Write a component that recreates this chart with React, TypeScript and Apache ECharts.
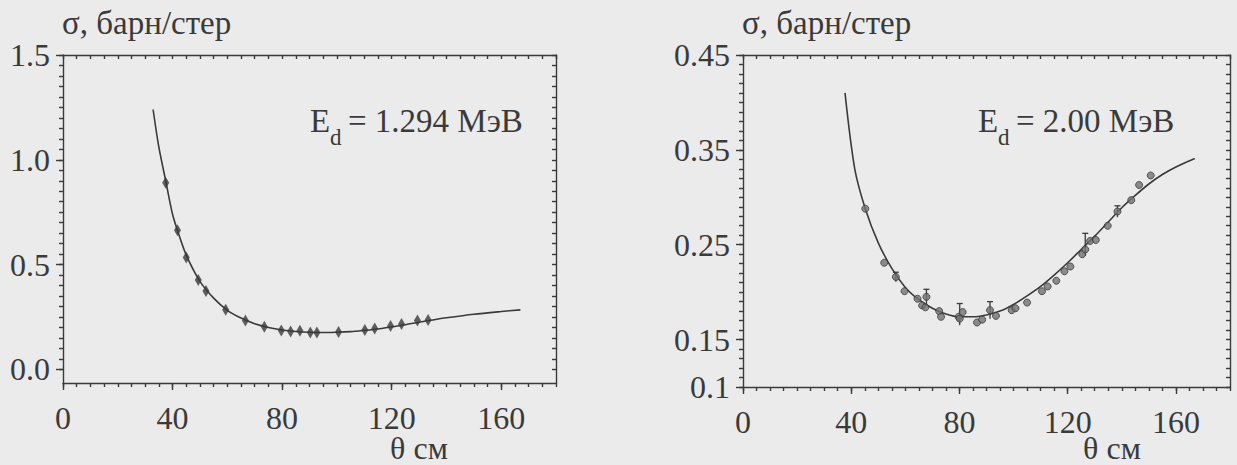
import React, { useEffect, useRef } from "react";
import * as echarts from "echarts";

// ---- tick labels ----
const thetaTicks = [0, 40, 80, 120, 160];
const leftSigmaTicks = [0, 0.5, 1.0, 1.5];
const rightSigmaTicks = [0.1, 0.15, 0.25, 0.35, 0.45];

// ---- left panel: E_d = 1.294 MeV ----
const leftTheta = [37.5, 41.8, 45, 49.4, 52.2, 59.4, 66.6, 73.5, 79.7, 83.1, 86.5, 90.3, 92.7, 100.6, 110.2, 113.8, 119.6, 123.6, 129.4, 133.3];
const leftSigma = [0.89, 0.664, 0.534, 0.426, 0.374, 0.284, 0.233, 0.203, 0.186, 0.181, 0.184, 0.176, 0.176, 0.178, 0.188, 0.195, 0.207, 0.216, 0.233, 0.236];
const leftFitTheta = [32.9, 35, 37.5, 40, 42, 45, 50, 55, 60, 65, 70, 75, 80, 85, 90, 95, 100, 105, 110, 115, 120, 125, 130, 135, 140, 150, 160, 167];
const leftFitSigma = [1.24, 1.06, 0.9, 0.74, 0.655, 0.545, 0.42, 0.34, 0.282, 0.245, 0.218, 0.2, 0.188, 0.181, 0.177, 0.176, 0.177, 0.18, 0.186, 0.193, 0.203, 0.213, 0.225, 0.236, 0.246, 0.263, 0.276, 0.284];

// ---- right panel: E_d = 2.00 MeV ----
const rightTheta = [45.2, 52.2, 56.5, 59.7, 64.5, 66.2, 67.4, 67.8, 72.5, 73.2, 79.7, 80.1, 81.2, 86.5, 88.4, 91.3, 93.5, 99.3, 100.7, 105, 110.5, 112.6, 115.8, 118.8, 121, 125.4, 126.5, 128.3, 130.4, 134.8, 138.4, 143.5, 146.4, 150.7];
const rightSigma = [0.288, 0.231, 0.216, 0.201, 0.193, 0.186, 0.184, 0.195, 0.18, 0.174, 0.174, 0.172, 0.179, 0.168, 0.171, 0.181, 0.175, 0.181, 0.183, 0.189, 0.201, 0.206, 0.212, 0.222, 0.227, 0.24, 0.245, 0.254, 0.255, 0.27, 0.285, 0.297, 0.313, 0.323];
const rightFitTheta = [37.7, 41.3, 45.2, 50, 55, 60, 65, 70, 75, 80, 85, 90, 95, 100, 105, 110, 115, 120, 125, 130, 135, 140, 145, 150, 155, 160, 167];
const rightFitSigma = [0.41, 0.33, 0.288, 0.252, 0.225, 0.205, 0.192, 0.183, 0.177, 0.174, 0.174, 0.176, 0.18, 0.187, 0.196, 0.206, 0.218, 0.231, 0.245, 0.259, 0.274, 0.289, 0.302, 0.314, 0.324, 0.332, 0.341];
const rightErrTheta = [56.5, 67.8, 80.1, 91.3, 126.5, 138.4];
const rightErrLow = [0.211, 0.186, 0.165, 0.172, 0.238, 0.279];
const rightErrHigh = [0.221, 0.203, 0.188, 0.19, 0.262, 0.291];

const FONT = "Liberation Serif, serif";
const INK = "#3a3a3a";
const BG = "#ebebeb";

function steps(a: number, b: number, s: number) {
  const out: number[] = [];
  const n = Math.round((b - a) / s);
  for (let i = 0; i <= n; i++) out.push(+(a + i * s).toFixed(4));
  return out;
}

const lineStyle = { color: INK, width: 1.4 };

function xAxes(g: number) {
  const minor = steps(0, 180, 5);
  const base = { gridIndex: g, type: "value", min: 0, max: 180, splitLine: { show: false } };
  return [
    {
      ...base, position: "bottom",
      axisLine: { show: true, onZero: false, lineStyle },
      axisTick: { show: true, customValues: thetaTicks, length: 7, lineStyle },
      axisLabel: { show: true, customValues: thetaTicks, fontSize: 32, fontFamily: FONT, color: INK, margin: 19 },
    },
    {
      ...base, position: "bottom",
      axisLine: { show: false, onZero: false },
      axisTick: { show: true, customValues: minor, length: 4, lineStyle },
      axisLabel: { show: false },
    },
    {
      ...base, position: "top",
      axisLine: { show: true, onZero: false, lineStyle },
      axisTick: { show: true, customValues: minor, length: 4, inside: true, lineStyle },
      axisLabel: { show: false },
    },
  ];
}

function yAxes(g: number, min: number, max: number, labels: number[], minorVals: number[], fmt: (v: number) => string) {
  const base = { gridIndex: g, type: "value", min, max, splitLine: { show: false } };
  return [
    {
      ...base, position: "left",
      axisLine: { show: true, onZero: false, lineStyle },
      axisTick: { show: true, customValues: labels, length: 7, lineStyle },
      axisLabel: { show: true, customValues: labels, formatter: fmt, fontSize: 32, fontFamily: FONT, color: INK, margin: 13 },
    },
    {
      ...base, position: "left",
      axisLine: { show: false, onZero: false },
      axisTick: { show: true, customValues: minorVals, length: 4, lineStyle },
      axisLabel: { show: false },
    },
    {
      ...base, position: "right",
      axisLine: { show: true, onZero: false, lineStyle },
      axisTick: { show: true, customValues: minorVals, length: 4, inside: true, lineStyle },
      axisLabel: { show: false },
    },
  ];
}

function zip(a: number[], b: number[]) {
  return a.map((v, i) => [v, b[i]]);
}

function textEl(x: number, y: number, text: string, size: number, align = "left") {
  return {
    type: "text", x, y,
    style: { text, fontSize: size, fontFamily: FONT, fill: INK, textAlign: align, textVerticalAlign: "middle" },
  };
}

export default function App() {
  const ref = useRef<HTMLDivElement>(null);
  useEffect(() => {
    if (!ref.current) return;
    const chart = echarts.init(ref.current, null, { renderer: "svg" });
    const option: any = {
      animation: false,
      backgroundColor: BG,
      textStyle: { fontFamily: FONT },
      grid: [
        { left: 63, top: 55, width: 493, height: 328 },
        { left: 743, top: 55, width: 487, height: 332 },
      ],
      xAxis: [...xAxes(0), ...xAxes(1)],
      yAxis: [
        ...yAxes(0, -0.065, 1.5, leftSigmaTicks, steps(0, 1.5, 0.05), (v) => v.toFixed(1)),
        ...yAxes(1, 0.1, 0.45, rightSigmaTicks, steps(0.1, 0.45, 0.01), (v) => String(+v.toFixed(2))),
      ],
      series: [
        {
          type: "line", xAxisIndex: 0, yAxisIndex: 0, data: zip(leftFitTheta, leftFitSigma),
          smooth: 0.3, showSymbol: false, lineStyle: { color: INK, width: 1.6 }, z: 2,
        },
        {
          type: "scatter", xAxisIndex: 0, yAxisIndex: 0, data: zip(leftTheta, leftSigma),
          symbol: "diamond", symbolSize: [7, 12], itemStyle: { color: INK }, z: 3,
        },
        {
          type: "line", xAxisIndex: 3, yAxisIndex: 3, data: zip(rightFitTheta, rightFitSigma),
          smooth: 0.3, showSymbol: false, lineStyle: { color: INK, width: 1.6 }, z: 2,
        },
        {
          type: "custom", xAxisIndex: 3, yAxisIndex: 3,
          data: rightErrTheta.map((t, i) => [t, rightErrLow[i], rightErrHigh[i]]),
          encode: { x: 0, y: [1, 2] },
          renderItem: (params: any, api: any) => {
            const x = api.value(0);
            const p1 = api.coord([x, api.value(1)]);
            const p2 = api.coord([x, api.value(2)]);
            const st = { stroke: INK, lineWidth: 1.3 };
            return {
              type: "group",
              children: [
                { type: "line", shape: { x1: p1[0], y1: p1[1], x2: p2[0], y2: p2[1] }, style: st },
                { type: "line", shape: { x1: p2[0] - 3, y1: p2[1], x2: p2[0] + 3, y2: p2[1] }, style: st },
              ],
            };
          },
          z: 3,
        },
        {
          type: "scatter", xAxisIndex: 3, yAxisIndex: 3, data: zip(rightTheta, rightSigma),
          symbol: "circle", symbolSize: 7,
          itemStyle: { color: "#737373", borderColor: INK, borderWidth: 1 }, z: 4,
        },
      ],
      graphic: [
        textEl(62, 23, "σ, барн/стер", 33),
        textEl(742, 23, "σ, барн/стер", 33),
        textEl(310, 121, "E", 33),
        textEl(330, 137, "d", 23),
        textEl(348, 121, "= 1.294 МэВ", 33),
        textEl(978, 121, "E", 33),
        textEl(998, 137, "d", 23),
        textEl(1016, 121, "= 2.00 МэВ", 33),
        textEl(419, 448, "θ см", 32, "center"),
        textEl(1112, 448, "θ см", 32, "center"),
      ],
    };
    chart.setOption(option);
    return () => chart.dispose();
  }, []);
  return (
    <div
      ref={ref}
      style={{ position: "fixed", left: 0, top: 0, width: 1237, height: 465, background: BG }}
    />
  );
}
